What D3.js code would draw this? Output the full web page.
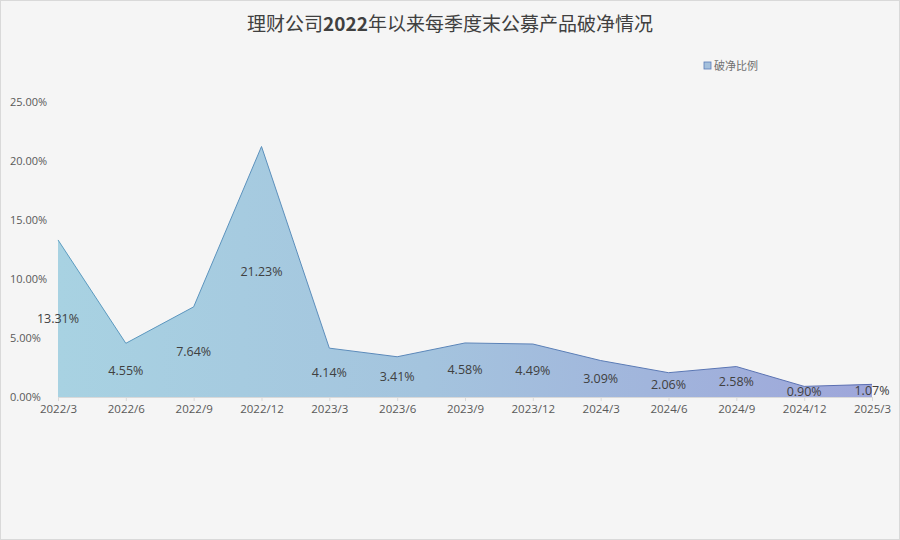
<!DOCTYPE html>
<html>
<head>
<meta charset="utf-8">
<script src="https://cdn.jsdelivr.net/npm/d3@7"></script>
<style>
  body { margin: 0; background: #fff; }
  text { font-family: "Open Sans", "Noto Sans CJK SC", sans-serif; }
</style>
</head>
<body>
<div id="chart"></div>
<script>
const quarters = ["2022/3", "2022/6", "2022/9", "2022/12", "2023/3", "2023/6", "2023/9",
                  "2023/12", "2024/3", "2024/6", "2024/9", "2024/12", "2025/3"];
const ratios = [13.31, 4.55, 7.64, 21.23, 4.14, 3.41, 4.58, 4.49, 3.09, 2.06, 2.58, 0.90, 1.07];
const yTicks = [0, 5, 10, 15, 20, 25];
const seriesName = "破净比例";

const data = quarters.map((q, i) => ({ q, v: ratios[i] }));

const W = 900, H = 540;
const margin = { top: 102, right: 28, bottom: 143, left: 58 };

const svg = d3.select("#chart").append("svg")
    .attr("width", W)
    .attr("height", H);

svg.append("rect")
    .attr("x", 0.5).attr("y", 0.5)
    .attr("width", W - 1).attr("height", H - 1)
    .attr("fill", "#f5f5f5")
    .attr("stroke", "#d9d9d9");

// gradient fill
const defs = svg.append("defs");
const grad = defs.append("linearGradient")
    .attr("id", "areaGrad")
    .attr("x1", "0%").attr("x2", "100%").attr("y1", "0%").attr("y2", "0%");
grad.append("stop").attr("offset", "0%").attr("stop-color", "#a8d2e2");
grad.append("stop").attr("offset", "45%").attr("stop-color", "#a4c4de");
grad.append("stop").attr("offset", "100%").attr("stop-color", "#9ea6da");
const gradLine = defs.append("linearGradient")
    .attr("id", "lineGrad")
    .attr("x1", "0%").attr("x2", "100%").attr("y1", "0%").attr("y2", "0%");
gradLine.append("stop").attr("offset", "0%").attr("stop-color", "#5b9cc0");
gradLine.append("stop").attr("offset", "100%").attr("stop-color", "#5a6cb0");

// title
svg.append("text")
    .attr("x", W / 2)
    .attr("y", 31)
    .attr("text-anchor", "middle")
    .style("font-size", "19px")
    .style("font-family", "'Noto Sans CJK SC', sans-serif")
    .attr("fill", "#404040")
    .html('理财公司<tspan font-weight="bold">2022</tspan>年以来每季度末公募产品破净情况');

// legend
const legend = svg.append("g").attr("transform", "translate(704,62)");
legend.append("rect")
    .attr("width", 7).attr("height", 7)
    .attr("fill", "#a4c0dc")
    .attr("stroke", "#5a7cb8")
    .attr("stroke-width", 0.8);
legend.append("text")
    .attr("x", 10).attr("y", 7.5)
    .style("font-size", "11px")
    .style("font-family", "'Noto Sans CJK SC', sans-serif")
    .attr("fill", "#707070")
    .text(seriesName);

const g = svg.append("g")
    .attr("transform", `translate(${margin.left},${margin.top})`);

const x = d3.scalePoint()
    .domain(quarters)
    .range([0, 814]);

const y = d3.scaleLinear()
    .domain([0, 25])
    .range([295, 0]);

const area = d3.area()
    .x(d => x(d.q))
    .y0(y(0))
    .y1(d => y(d.v));

const line = d3.line()
    .x(d => x(d.q))
    .y(d => y(d.v));

g.append("path")
    .datum(data)
    .attr("d", area)
    .attr("fill", "url(#areaGrad)");

g.append("path")
    .datum(data)
    .attr("d", line)
    .attr("fill", "none")
    .attr("stroke", "url(#lineGrad)")
    .attr("stroke-width", 1);

// y axis
const yAxis = g.append("g")
    .call(d3.axisLeft(y).tickValues(yTicks).tickSize(0)
        .tickFormat(d => d.toFixed(2) + "%"));
yAxis.select(".domain").remove();
yAxis.selectAll("text")
    .attr("text-anchor", "start")
    .attr("x", -48)
    .style("font-size", "11px")
    .attr("fill", "#595959");

// x axis
const xAxis = g.append("g")
    .attr("transform", `translate(0,${y(0)})`)
    .call(d3.axisBottom(x).tickSize(4).tickPadding(4));
xAxis.select(".domain").attr("stroke", "#d9d9d9");
xAxis.selectAll(".tick line").attr("stroke", "#d9d9d9");
xAxis.selectAll("text")
    .style("font-size", "11.5px")
    .attr("fill", "#595959");

// data labels at middle of area
g.selectAll(".lbl")
    .data(data)
    .enter()
    .append("text")
    .attr("class", "lbl")
    .attr("x", d => x(d.q))
    .attr("y", d => y(d.v / 2))
    .attr("dy", "0.35em")
    .attr("text-anchor", "middle")
    .style("font-size", "12.5px")
    .attr("fill", "#404040")
    .text(d => d.v.toFixed(2) + "%");
</script>
</body>
</html>
